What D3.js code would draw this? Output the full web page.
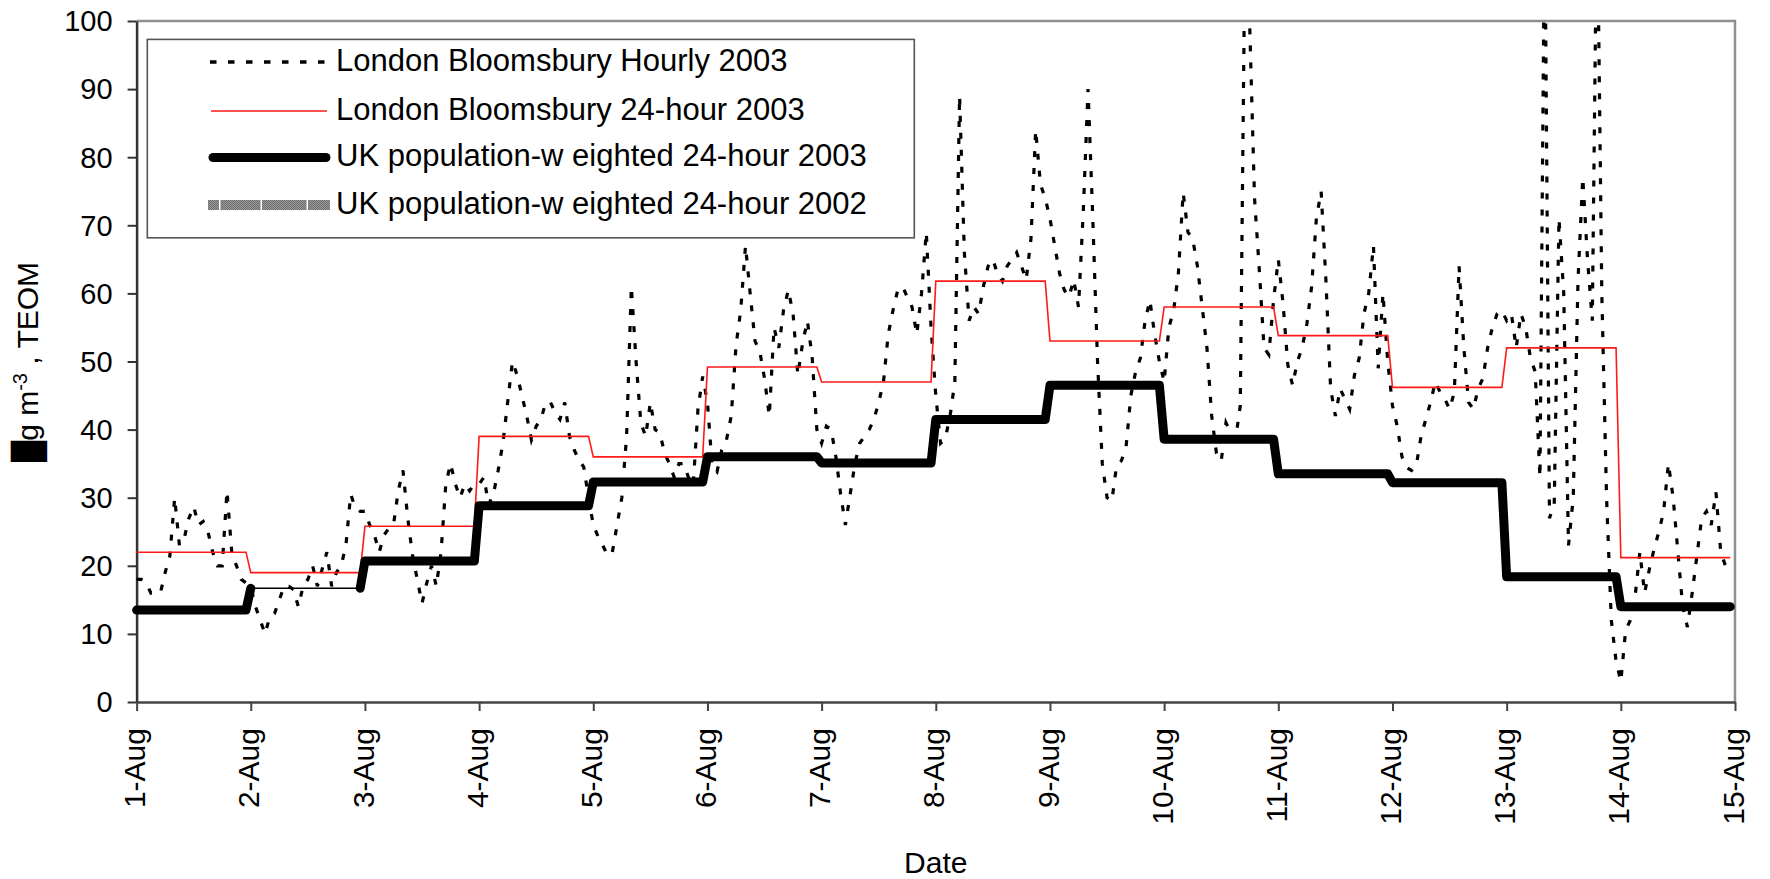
<!DOCTYPE html>
<html>
<head>
<meta charset="utf-8">
<script src="https://cdn.jsdelivr.net/npm/d3@7"></script>
<style>
  html, body { margin: 0; padding: 0; background: #fff; }
  svg { display: block; }
  text { font-family: "Liberation Sans", Arial, sans-serif; fill: #000; }
</style>
</head>
<body>
<svg id="chart" width="1770" height="879"></svg>
<script>
// ---------------- DATA ----------------
const dayLabels = ["1-Aug","2-Aug","3-Aug","4-Aug","5-Aug","6-Aug","7-Aug","8-Aug",
                   "9-Aug","10-Aug","11-Aug","12-Aug","13-Aug","14-Aug","15-Aug"];
const yTicks = [0,10,20,30,40,50,60,70,80,90,100];
const seriesNames = [
  "London Bloomsbury Hourly 2003",
  "London Bloomsbury 24-hour 2003",
  "UK population-w eighted 24-hour 2003",
  "UK population-w eighted 24-hour 2002"
];
// London Bloomsbury hourly PM10 (TEOM), 1 Aug 00:00 .. 14 Aug 23:00
const londonHourly = [
  18,18,17.5,16,16,16,19,21.5,30,23,24,27,28.7,26,26.5,25,22,20,20,31,22,20,18,17.5,
  17,14,12,10,12.5,13,15,17,17,16.5,14,17,18,20,17,19.5,22,17,19,20,23,30.5,28.5,28,
  28,26,24.5,22,24.5,25.5,26,31,34,27,21.5,18,14.5,17.5,20,17,22,32,35,32,30,32,31,32,
  32,33,29,30.5,34,38,44,50,48,45,42,38.5,40.5,41.5,44,44,42.5,41.5,44,39,37,35.5,34.5,30,
  26,24.3,23,21.5,22,26,30,39,61,50,41,39,44,40,39.5,36.5,35,33,35,35,33,31.8,43,47.8,
  44,34.5,33.8,37,38.5,42,52.3,57.6,67,59.8,53,51.5,47.5,42,55,52,57.6,60.5,57,48,52.7,56,50.7,40,
  38,40.5,40,36,30.5,26,30.5,35,38,39,40,41.5,44,47,54,57.5,60.5,61,59.5,58,54,60,69,55,
  45,38,38.7,42,47,89,66,56,58,57,61,64,65,62.8,61.8,64,65,66,64,62,68,84,76,74,
  71,67,63,60.5,59.5,62,58,72,90,71,50,35,30,29.5,34.7,35.4,37.5,45,48.5,50.5,56,59,54,50,
  47,55,57.5,63,74.8,69,68,64,58,52,42,36.5,35.4,41,39.5,38.5,43.5,112,99,74,63.5,52,51,59,
  65,58.5,49.5,46.5,50,52,55.5,61,71,75,62,46,42,46,44.5,43,48,50.5,57,60,67,49,60,50,
  43.5,40.5,36,34.4,34,34.7,39,41.5,44,47,45.5,44.5,43,45.5,64,52,44,43,46,47.5,52,55,57,57.5,
  56,57,52,57,55,50.5,48.5,33,118,27,29,71,60,23,30,62,77,65,56,120,60,30,12,6,
  3,10.5,12,15.5,22,16,19.5,22.5,25,28,35,30,22,14,11,16,21.5,27,28,26,30.8,22,20,19
];
// London Bloomsbury 24-hour means, 1..14 Aug
const londonDaily = [22.0,19.0,25.8,39.0,36.0,49.2,47.0,61.8,53.0,58.0,53.8,46.2,52.0,21.2];
// UK population-weighted 24-hour means 2003, 1..14 Aug
const ukDaily2003 = [13.5,16.7,20.7,28.8,32.3,36.0,35.1,41.5,46.5,38.6,33.5,32.2,18.4,14.0];

// ---------------- LAYOUT ----------------
const W = 1770, H = 879;
const plot = { left: 136.6, right: 1735, top: 21, bottom: 702 };
const HOUR = 3600e3, DAY = 24 * HOUR;
const start = Date.UTC(2003, 7, 1);
const nDays = dayLabels.length - 1;

const x = d3.scaleUtc()
  .domain([new Date(start), new Date(start + nDays * DAY)])
  .range([plot.left, plot.right]);
const y = d3.scaleLinear().domain([0, 100]).range([plot.bottom, plot.top]);

const svg = d3.select("#chart");
svg.append("rect").attr("width", W).attr("height", H).attr("fill", "#fff");

const defs = svg.append("defs");
defs.append("clipPath").attr("id", "plotClip")
  .append("rect").attr("x", 0).attr("y", plot.top)
  .attr("width", W).attr("height", plot.bottom - plot.top);
const pat = defs.append("pattern").attr("id", "grayTex")
  .attr("width", 2).attr("height", 2).attr("patternUnits", "userSpaceOnUse");
pat.append("rect").attr("width", 2).attr("height", 2).attr("fill", "#9a9a9a");
pat.append("rect").attr("width", 1).attr("height", 1).attr("fill", "#6c6c6c");
pat.append("rect").attr("x", 1).attr("y", 1).attr("width", 1).attr("height", 1).attr("fill", "#6c6c6c");

// plot-area border (top & right)
svg.append("path")
  .attr("d", `M${plot.left},${plot.top}H${plot.right}V${plot.bottom}`)
  .attr("fill", "none").attr("stroke", "#8f8f8f").attr("stroke-width", 2.5);

// ---------------- AXES ----------------
const yAxis = d3.axisLeft(y).tickValues(yTicks).tickSize(9).tickSizeOuter(0).tickPadding(15);
const gy = svg.append("g").attr("transform", `translate(${plot.left},0)`).call(yAxis)
  .attr("font-size", null).attr("font-family", null);
gy.select(".domain").attr("stroke", "#333").attr("stroke-width", 2.5);
gy.selectAll(".tick line").attr("stroke", "#333").attr("stroke-width", 2);
gy.selectAll(".tick text").attr("font-size", 29).attr("fill", "#000").attr("dy", "0.34em");

const dayTicks = d3.range(nDays + 1).map(i => new Date(start + i * DAY));
const xAxis = d3.axisBottom(x).tickValues(dayTicks)
  .tickFormat((d, i) => dayLabels[i]).tickSize(9).tickSizeOuter(0);
const gx = svg.append("g").attr("transform", `translate(0,${plot.bottom})`).call(xAxis)
  .attr("font-size", null).attr("font-family", null);
gx.select(".domain").attr("stroke", "#444").attr("stroke-width", 2.5);
gx.selectAll(".tick line").attr("stroke", "#444").attr("stroke-width", 2);
gx.selectAll(".tick text")
  .attr("font-size", 30).attr("fill", "#000")
  .attr("transform", "rotate(-90)")
  .attr("text-anchor", "end")
  .attr("x", -26).attr("y", 0).attr("dy", "0.27em");

// axis titles
svg.append("text").attr("x", 935.8).attr("y", 873)
  .attr("text-anchor", "middle").attr("font-size", 30).text("Date");

const yt = svg.append("text")
  .attr("transform", "translate(38,362) rotate(-90)")
  .attr("text-anchor", "middle").attr("font-size", 30);
yt.append("tspan").text("\u2588");
yt.append("tspan").text("g m");
yt.append("tspan").attr("font-size", 20).attr("dy", -11).text("-3");
yt.append("tspan").attr("dy", 11).text(" , TEOM");

// ---------------- SERIES ----------------
const hourly = londonHourly.map((v, i) => ({ t: new Date(start + i * HOUR), v }));
const stepPts = arr => arr.flatMap((v, i) => [
  { t: new Date(start + i * DAY), v, day: i },
  { t: new Date(start + i * DAY + 23 * HOUR), v, day: i }
]);
const line = d3.line().x(d => x(d.t)).y(d => y(d.v));

// hourly (dashed)
svg.append("path").datum(hourly)
  .attr("clip-path", "url(#plotClip)")
  .attr("d", line).attr("fill", "none")
  .attr("stroke", "#000").attr("stroke-width", 3.2)
  .attr("stroke-dasharray", "6,11");

// London 24-hour (red)
svg.append("path").datum(stepPts(londonDaily))
  .attr("d", line).attr("fill", "none")
  .attr("stroke", "#ff1a1a").attr("stroke-width", 1.6);

// UK 2003 (thick), day 2 drawn thin as in the source figure
const uk = stepPts(ukDaily2003);
const THIN_DAY = 1;
const iThinStart = uk.findIndex(p => p.day === THIN_DAY);
const thickA = uk.slice(0, iThinStart + 1);
const thin = uk.slice(iThinStart, iThinStart + 2);
const thickB = uk.slice(iThinStart + 1);
[thickA, thickB].forEach(seg => {
  svg.append("path").datum(seg).attr("d", line).attr("fill", "none")
    .attr("stroke", "#000").attr("stroke-width", 9)
    .attr("stroke-linejoin", "round").attr("stroke-linecap", "round");
});
svg.append("path").datum(thin).attr("d", line).attr("fill", "none")
  .attr("stroke", "#000").attr("stroke-width", 1.5);

// ---------------- LEGEND ----------------
const lg = svg.append("g");
lg.append("rect").attr("x", 147.3).attr("y", 39.4).attr("width", 767).attr("height", 198.4)
  .attr("fill", "#fff").attr("stroke", "#555").attr("stroke-width", 1.6);
const rowY = [62, 111, 157.5, 205];
const sx0 = 210, sx1 = 330, tx = 336;
lg.append("line").attr("x1", sx0).attr("x2", sx1).attr("y1", rowY[0]).attr("y2", rowY[0])
  .attr("stroke", "#000").attr("stroke-width", 3.5).attr("stroke-dasharray", "6.5,11.5");
lg.append("line").attr("x1", sx0 + 1).attr("x2", sx1 - 3).attr("y1", rowY[1]).attr("y2", rowY[1])
  .attr("stroke", "#ff1a1a").attr("stroke-width", 1.6);
lg.append("line").attr("x1", sx0 + 3).attr("x2", sx1 - 4).attr("y1", rowY[2]).attr("y2", rowY[2])
  .attr("stroke", "#000").attr("stroke-width", 9).attr("stroke-linecap", "round");
[[208, 219], [220.5, 260.5], [262, 306.5], [308, 330]].forEach(([a, b]) => {
  lg.append("rect").attr("x", a).attr("y", rowY[3] - 5).attr("width", b - a).attr("height", 10)
    .attr("fill", "url(#grayTex)");
});
lg.selectAll("text.leg").data(seriesNames).enter().append("text")
  .attr("class", "leg").attr("x", tx).attr("y", (d, i) => rowY[i] + 8.5)
  .attr("font-size", 31).text(d => d);
</script>
</body>
</html>
